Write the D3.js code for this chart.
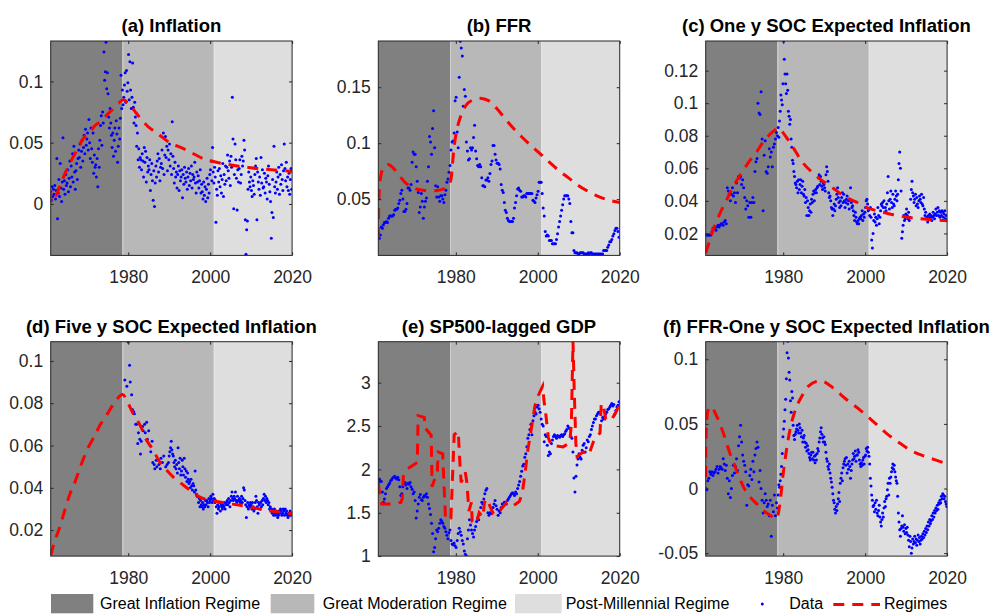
<!DOCTYPE html>
<html><head><meta charset="utf-8">
<script src="https://cdn.jsdelivr.net/npm/d3@7"></script>
<style>body{margin:0;background:#fff}</style>
</head><body><svg id="c" width="992" height="614"></svg>
<script>
// ---------- shared categories ----------
const xTicks = [1980, 2000, 2020];
const xStart = 1961.08, xEnd = 2020.0;
const regimeBreaks = [1978.6, 2000.9];
const regimeNames = ["Great Inflation Regime", "Great Moderation Regime", "Post-Millennial Regime"];
const panelTitles = ["(a) Inflation", "(b) FFR", "(c) One y SOC Expected Inflation",
  "(d) Five y SOC Expected Inflation", "(e) SP500-lagged GDP", "(f) FFR-One y SOC Expected Inflation"];

// ---------- (a) Inflation: 6 obs per year from 1961.08 ----------
const inflation = [
0.010,0.003,0.014,0.006,0.012,0.008,
0.015,0.004,0.011,0.037,-0.012,0.009,
0.020,0.006,0.033,0.013,0.002,0.018,
0.054,0.012,0.019,0.008,0.024,0.015,
0.017,0.028,0.010,0.021,0.035,0.014,
0.031,0.022,0.041,0.018,0.047,0.026,
0.012,0.027,0.033,0.020,0.037,0.044,
0.038,0.049,0.030,0.043,0.052,0.035,
0.046,0.056,0.041,0.061,0.048,0.053,
0.058,0.044,0.069,0.050,0.037,0.062,
0.045,0.034,0.058,0.025,0.040,0.030,
0.032,0.022,0.037,0.014,0.045,0.030,
0.052,0.064,0.072,0.048,0.075,0.066,
0.124,0.101,0.108,0.132,0.094,0.107,
0.090,0.071,0.062,0.078,0.066,0.056,
0.046,0.058,0.039,0.052,0.062,0.043,
0.068,0.057,0.034,0.047,0.062,0.053,
0.070,0.105,0.078,0.093,0.081,0.087,
0.097,0.107,0.083,0.109,0.092,0.099,
0.122,0.085,0.116,0.093,0.078,0.087,
0.115,0.079,0.066,0.083,0.071,0.064,
0.047,0.058,0.036,0.045,0.030,0.038,
0.036,0.028,0.041,0.035,0.022,0.046,
0.034,0.043,0.018,0.038,0.026,0.031,
0.028,0.036,0.011,0.024,0.033,0.019,
0.003,0.027,-0.002,0.017,0.031,0.022,
0.035,0.041,0.026,0.037,0.019,0.030,
0.033,0.044,0.029,0.058,0.024,0.040,
0.055,0.038,0.047,0.027,0.044,0.036,
0.049,0.031,0.041,0.024,0.067,0.039,
0.029,0.017,0.034,0.022,0.026,0.013,
0.024,0.031,0.011,0.027,0.019,0.022,
0.028,0.005,0.024,0.016,0.030,0.021,
0.018,0.026,0.012,0.022,0.029,0.015,
0.025,0.019,0.031,0.013,0.024,0.020,
0.022,0.034,0.017,0.009,0.026,0.018,
0.023,0.013,0.019,0.028,0.009,0.016,
0.010,0.004,0.018,0.007,0.014,0.002,
0.012,0.021,0.005,0.016,0.009,0.024,
0.028,0.035,0.019,0.046,0.026,0.017,
0.030,0.022,-0.015,0.012,0.007,0.027,
0.018,0.029,0.014,0.023,0.009,0.020,
0.033,0.006,0.024,0.016,0.031,0.019,
0.030,0.040,0.027,0.021,0.035,0.015,
0.039,0.030,0.087,0.053,-0.004,0.024,
0.049,0.036,0.021,-0.005,0.028,0.018,
0.029,0.036,0.017,0.024,0.039,0.031,
0.035,0.052,0.044,-0.013,-0.041,-0.021,
-0.014,0.012,0.026,0.018,0.014,0.022,
0.011,0.006,0.019,0.015,0.008,0.024,
0.031,0.037,-0.013,0.026,0.018,0.012,
0.022,0.007,0.038,0.017,0.028,0.013,
0.014,0.025,0.009,0.021,0.018,0.004,
0.023,0.031,0.016,0.010,0.002,-0.028,
-0.007,0.020,-0.011,0.047,0.014,0.009,
0.018,0.026,0.012,0.022,0.030,0.008,
0.024,0.016,0.032,0.020,0.011,0.027,
0.049,0.029,0.019,0.034,0.014,0.022,
0.011,0.025,0.008,0.020,0.029,0.012];
const inflationRegime = [[1961.08,0.010],[1961.3,0.001],[1961.9,0.003],[1962.5,0.0076],[1963.7,0.018],[1965.0,0.028],[1966.2,0.036],[1967.3,0.043],[1968.2,0.049],[1969.4,0.055],[1970.7,0.059],[1971.9,0.064],[1973.1,0.067],[1974.3,0.071],[1975.5,0.075],[1977.6,0.082],[1978.8,0.085],[1980.8,0.079],[1982.0,0.074],[1983.7,0.067],[1984.9,0.063],[1986.9,0.058],[1988.1,0.055],[1990.6,0.049],[1992.2,0.047],[1994.2,0.044],[1995.9,0.041],[1998.3,0.037],[2000.3,0.035],[2002.8,0.033],[2004.8,0.032],[2007.3,0.0305],[2008.9,0.030],[2011.3,0.029],[2015.0,0.028],[2020.0,0.0265]];

// ---------- (b) FFR: quarterly from 1961.08 ----------
const ffr = [
0.020,0.015,0.018,0.025, 0.024,0.027,0.029,0.029, 0.030,0.029,0.033,0.035, 0.035,0.035,0.035,0.036,
0.040,0.041,0.041,0.042, 0.046,0.049,0.055,0.058, 0.050,0.039,0.039,0.041, 0.046,0.060,0.060,0.058,
0.063,0.083,0.092,0.090, 0.090,0.079,0.066,0.056, 0.038,0.043,0.055,0.048, 0.033,0.043,0.048,0.051,
0.066,0.079,0.106,0.101, 0.090,0.113,0.129,0.096, 0.062,0.052,0.061,0.052, 0.048,0.053,0.053,0.050,
0.047,0.054,0.058,0.065, 0.068,0.074,0.080,0.094, 0.101,0.102,0.109,0.138, 0.141,0.110,0.096,0.159,
0.191,0.185,0.178,0.133, 0.148,0.142,0.101,0.093, 0.085,0.086,0.096,0.094, 0.096,0.105,0.116,0.093,
0.086,0.080,0.079,0.081, 0.079,0.069,0.062,0.062, 0.061,0.067,0.067,0.069, 0.066,0.073,0.081,0.084,
0.098,0.098,0.090,0.085, 0.082,0.082,0.081,0.077, 0.063,0.058,0.056,0.047, 0.040,0.038,0.033,0.031,
0.030,0.030,0.030,0.030, 0.033,0.042,0.047,0.053, 0.059,0.060,0.058,0.057, 0.052,0.052,0.053,0.053,
0.052,0.055,0.055,0.055, 0.055,0.055,0.055,0.049, 0.048,0.047,0.051,0.054, 0.057,0.065,0.065,0.065,
0.055,0.042,0.035,0.021, 0.017,0.018,0.017,0.013, 0.013,0.013,0.010,0.010, 0.010,0.010,0.014,0.019,
0.025,0.030,0.035,0.040, 0.045,0.050,0.053,0.053, 0.053,0.053,0.050,0.046, 0.030,0.020,0.020,0.004,
0.002,0.002,0.002,0.001, 0.001,0.002,0.002,0.002, 0.002,0.001,0.001,0.001, 0.001,0.002,0.001,0.002,
0.002,0.001,0.001,0.001, 0.001,0.001,0.001,0.001, 0.001,0.001,0.001,0.001, 0.004,0.004,0.004,0.004,
0.007,0.009,0.012,0.012, 0.014,0.017,0.019,0.022, 0.024,0.024,0.021,0.016];
const ffrRegime = [[1961.08,0.015],[1961.2,0.045],[1961.5,0.066],[1962.2,0.077],[1963.4,0.081],[1964.7,0.078],[1966.0,0.072],[1967.6,0.065],[1969.6,0.060],[1972.0,0.058],[1975.0,0.0575],[1977.3,0.0595],[1978.1,0.062],[1978.7,0.066],[1979.2,0.082],[1979.6,0.097],[1980.2,0.111],[1981.0,0.122],[1982.0,0.131],[1983.0,0.136],[1984.5,0.139],[1986.3,0.140],[1988.0,0.138],[1990.0,0.131],[1992.0,0.122],[1994.0,0.1135],[1996.0,0.106],[1998.0,0.099],[2000.0,0.0925],[2002.5,0.084],[2005.0,0.076],[2007.5,0.069],[2010.0,0.062],[2012.5,0.0565],[2015.0,0.052],[2017.5,0.049],[2020.0,0.047]];

// ---------- (c) One-year SOC expected inflation ----------
const soc1Early = [ // quarterly from 1961.1
0.019,0.019,0.019,0.019, 0.019,0.019,0.021,0.023, 0.023,0.024,0.022,0.024, 0.025,0.024,0.025,0.026,
0.026,0.025,0.027,0.028, 0.026,0.048,0.046,0.044, 0.040,0.044,0.048,0.043, 0.045,0.039,0.051,0.045,
0.055,0.054,0.055,0.050, 0.053,0.048,0.042,0.035, 0.040,0.037,0.030,0.039, 0.030,0.039,0.042,0.039,
0.058,0.064,0.066,0.100, 0.094,0.093,0.107,0.078, 0.034,0.068,0.077,0.058, 0.057,0.061,0.072,0.067,
0.070,0.061,0.073,0.075, 0.078,0.082];
const soc1Late = [ // 6 per year from 1978.6
0.080,0.085,0.079,
0.089,0.095,0.105,0.102,0.099,0.112,
0.138,0.127,0.118,0.112,0.106,0.118,
0.108,0.095,0.092,0.087,0.090,0.078,
0.073,0.065,0.063,0.058,0.055,0.051,
0.050,0.048,0.052,0.045,0.053,0.047,
0.050,0.053,0.045,0.049,0.052,0.044,
0.043,0.047,0.039,0.042,0.031,0.040,
0.036,0.031,0.034,0.038,0.033,0.041,
0.039,0.044,0.046,0.040,0.045,0.047,
0.045,0.048,0.049,0.054,0.056,0.050,
0.055,0.052,0.049,0.047,0.051,0.050,
0.048,0.046,0.056,0.061,0.058,0.052,
0.045,0.042,0.043,0.040,0.036,0.035,
0.031,0.035,0.038,0.034,0.037,0.041,
0.044,0.048,0.042,0.039,0.036,0.040,
0.037,0.042,0.045,0.039,0.044,0.040,
0.036,0.039,0.041,0.043,0.038,0.040,
0.035,0.041,0.048,0.039,0.036,0.037,
0.034,0.031,0.028,0.033,0.030,0.027,
0.026,0.028,0.026,0.029,0.030,0.029,
0.031,0.034,0.028,0.032,0.030,0.033,
0.036,0.040,0.041,0.038,0.034,0.035,
0.031,0.036,0.030,0.016,0.011,0.020,
0.028,0.032,0.027,0.030,0.025,0.029,
0.036,0.031,0.026,0.030,0.034,0.038,
0.037,0.039,0.036,0.040,0.033,0.036,
0.034,0.038,0.045,0.055,0.040,0.035,
0.041,0.046,0.039,0.036,0.044,0.038,
0.037,0.041,0.046,0.043,0.040,0.044,
0.053,0.063,0.070,0.060,0.046,0.017,
0.021,0.025,0.031,0.028,0.029,0.032,
0.035,0.031,0.029,0.033,0.028,0.030,
0.041,0.047,0.052,0.045,0.043,0.039,
0.041,0.044,0.037,0.042,0.038,0.036,
0.040,0.043,0.041,0.039,0.044,0.038,
0.037,0.042,0.035,0.031,0.033,0.029,
0.030,0.027,0.031,0.029,0.032,0.030,
0.031,0.028,0.030,0.033,0.031,0.029,
0.032,0.035,0.031,0.033,0.036,0.031,
0.034,0.030,0.033,0.031,0.034,0.033,
0.030,0.032,0.034,0.029,0.031,0.028];
const soc1Regime = [[1961.08,0.0079],[1962.1,0.0161],[1962.9,0.0222],[1964.6,0.0325],[1966.2,0.0407],[1967.8,0.0488],[1969.8,0.057],[1971.7,0.0642],[1973.5,0.070],[1975.5,0.0775],[1978.0,0.0836],[1978.8,0.0846],[1981.2,0.0775],[1982.5,0.0724],[1984.9,0.0631],[1987.3,0.057],[1989.8,0.0519],[1992.2,0.0478],[1995.0,0.0427],[1997.9,0.0392],[2000.7,0.0355],[2003.6,0.0335],[2006.8,0.0315],[2010.1,0.030],[2013.3,0.029],[2016.6,0.0284],[2020.0,0.0278]];

// ---------- (d) Five-year SOC expected inflation: 6 per year from 1979.0 (null = no survey) ----------
const soc5 = [
null,0.091,null,null,0.088,null,
0.109,null,0.098,0.090,null,0.084,
0.077,null,0.076,0.075,null,0.070,
0.070,null,0.061,0.066,null,0.063,
0.056,0.062,null,0.069,0.067,null,
0.070,0.066,null,0.071,0.063,null,
0.067,null,0.060,0.057,null,0.062,
0.052,null,0.051,0.049,null,0.053,
0.050,null,0.053,0.051,null,0.049,
0.054,null,0.052,null,0.055,null,
null,0.050,null,0.051,null,0.052,
0.055,0.057,0.059,0.062,0.058,0.056,
0.055,0.052,0.050,0.053,0.049,0.051,
0.047,0.059,0.052,0.049,0.054,0.046,
0.048,0.053,0.050,0.046,0.054,0.049,
0.045,0.048,0.043,0.047,0.044,0.042,
0.043,0.040,0.044,0.041,0.039,0.042,
0.041,0.038,0.048,0.039,0.037,0.036,
0.036,0.033,0.035,0.031,0.034,0.032,
0.031,0.033,0.030,0.032,0.031,0.034,
0.032,0.034,0.033,0.031,0.035,0.033,
0.034,0.036,0.035,0.033,0.037,0.034,
0.035,0.033,0.034,0.031,0.028,0.032,
0.030,0.031,0.033,0.029,0.032,0.031,
0.030,0.032,0.031,0.033,0.030,0.032,
0.033,0.034,0.032,0.035,0.033,0.031,
0.034,0.036,0.038,0.035,0.034,0.036,
0.035,0.038,0.034,0.033,0.036,0.034,
0.034,0.035,0.033,0.034,0.036,0.033,
0.035,0.040,0.039,0.034,0.032,0.026,
0.031,0.033,0.030,0.032,0.031,0.033,
0.032,0.030,0.033,0.031,0.029,0.030,
0.033,0.036,0.034,0.031,0.028,0.033,
0.032,0.030,0.033,0.031,0.034,0.032,
0.035,0.037,0.034,0.036,0.033,0.035,
0.034,0.032,0.033,0.030,0.031,0.029,
0.030,0.028,0.029,0.027,0.030,0.028,
0.027,0.029,0.028,0.026,0.027,0.029,
0.028,0.030,0.029,0.027,0.028,0.030,
0.029,0.027,0.030,0.028,0.029,0.027,
0.026,0.028,0.027,0.029,0.027,0.028];
const soc5Regime = [[1961.08,0.008],[1962.1,0.0151],[1963.3,0.0214],[1964.6,0.030],[1965.8,0.0372],[1967.0,0.0427],[1968.6,0.0514],[1970.3,0.0593],[1971.9,0.0649],[1973.1,0.0696],[1974.7,0.0743],[1976.8,0.0807],[1978.6,0.0841],[1980.0,0.0799],[1981.2,0.0751],[1982.9,0.0696],[1984.5,0.0625],[1986.1,0.0578],[1987.7,0.0522],[1989.4,0.0483],[1991.0,0.0451],[1993.0,0.042],[1995.1,0.0388],[1997.5,0.0356],[1999.9,0.0341],[2002.4,0.0333],[2004.8,0.0325],[2007.3,0.0317],[2010.5,0.0306],[2013.8,0.0293],[2017.0,0.0285],[2020.0,0.0277]];

// ---------- (e) SP500 / lagged GDP: quarterly from 1961.08 ----------
const sp500 = [
1.85,1.89,1.87,1.86, 1.74,1.62,1.66,1.72, 1.78,1.80,1.82,1.84, 1.87,1.88,1.90,1.91,
1.92,1.90,1.89,1.91, 1.88,1.80,1.70,1.72, 1.80,1.84,1.85,1.82, 1.78,1.84,1.83,1.85,
1.80,1.77,1.72,1.74, 1.64,1.44,1.52,1.60, 1.68,1.71,1.65,1.64, 1.68,1.70,1.69,1.72,
1.68,1.60,1.55,1.48, 1.38,1.26,1.05,1.10, 1.20,1.30,1.28,1.32, 1.38,1.42,1.40,1.38,
1.34,1.32,1.28,1.24, 1.20,1.27,1.30,1.18, 1.14,1.13,1.15,1.12, 1.10,1.18,1.26,1.32,
1.28,1.24,1.18,1.14, 1.06,1.02,1.00,1.20, 1.30,1.42,1.36,1.30, 1.26,1.22,1.30,1.34,
1.40,1.44,1.42,1.48, 1.56,1.62,1.60,1.66, 1.72,1.76,1.78,1.50, 1.47,1.50,1.49,1.52,
1.56,1.60,1.64,1.58, 1.54,1.47,1.52,1.50, 1.56,1.60,1.58,1.62, 1.62,1.60,1.64,1.66,
1.68,1.70,1.72,1.73, 1.72,1.70,1.74,1.72, 1.78,1.82,1.86,1.92, 1.98,2.04,2.06,2.14,
2.18,2.26,2.36,2.40, 2.46,2.52,2.40,2.56, 2.62,2.66,2.64,2.72, 2.74,2.70,2.66,2.58,
2.52,2.50,2.32,2.40, 2.38,2.28,2.16,2.20, 2.18,2.30,2.34,2.38, 2.40,2.38,2.36,2.39,
2.38,2.37,2.39,2.40, 2.38,2.40,2.41,2.44, 2.46,2.50,2.48,2.47, 2.38,2.36,2.20,1.90,
1.74,1.92,2.05,2.12, 2.18,2.14,2.12,2.22, 2.28,2.30,2.20,2.25, 2.34,2.32,2.38,2.40,
2.46,2.50,2.54,2.58, 2.58,2.62,2.64,2.66, 2.66,2.65,2.56,2.60, 2.58,2.61,2.64,2.66,
2.69,2.70,2.72,2.74, 2.76,2.73,2.75,2.64, 2.68,2.72,2.74,2.78];
const sp500Regime = [[1961.08,1.84],[1961.5,1.68],[1961.9,1.60],[1964.4,1.60],[1966.6,1.62],[1966.9,1.66],[1967.2,1.92],[1968.0,2.00],[1970.6,2.08],[1970.8,2.62],[1972.3,2.60],[1972.6,2.47],[1973.2,2.44],[1974.0,2.39],[1974.2,1.80],[1975.5,1.98],[1975.7,2.20],[1976.8,2.18],[1977.0,1.95],[1977.5,1.42],[1978.8,1.44],[1979.6,2.40],[1980.6,2.44],[1980.9,2.15],[1981.3,1.85],[1982.3,1.97],[1982.7,1.85],[1983.2,1.52],[1983.8,1.62],[1984.0,1.40],[1985.0,1.37],[1985.7,1.50],[1986.6,1.45],[1987.0,1.62],[1987.6,1.66],[1988.3,1.58],[1989.0,1.50],[1989.8,1.54],[1990.7,1.52],[1992.4,1.62],[1994.0,1.58],[1995.5,1.63],[1996.2,1.72],[1996.8,1.92],[1997.6,2.23],[1998.4,2.46],[1999.3,2.73],[2000.1,2.85],[2001.2,2.96],[2001.5,2.80],[2002.0,2.62],[2002.6,2.36],[2003.3,2.28],[2006.2,2.26],[2007.8,2.31],[2008.2,2.52],[2008.6,3.47],[2008.9,2.92],[2009.3,2.30],[2009.6,2.15],[2011.1,2.20],[2012.5,2.17],[2013.5,2.31],[2014.3,2.38],[2015.2,2.42],[2015.5,2.76],[2016.0,2.74],[2016.6,2.58],[2017.8,2.56],[2018.6,2.62],[2019.5,2.70],[2020.0,2.62]];

// ---------- (f) FFR minus one-year SOC expected inflation ----------
const spreadEarly = [ // quarterly from 1961.1
0.000,-0.001,0.006,0.008, 0.013,0.011,0.013,0.010, 0.012,0.013,0.015,0.017, 0.012,0.015,0.017,0.016,
0.015,0.023,0.019,0.014, 0.018,0.008,-0.004,0.006, -0.007,0.000,0.010,0.018, 0.012,0.017,0.023,0.014,
0.033,0.040,0.049,0.036, 0.026,0.021,0.018,0.013, -0.013,0.003,0.002,0.010, 0.015,0.007,0.021,0.013,
0.026,0.031,0.036,0.032, 0.005,0.014,0.000,-0.009, -0.019,-0.011,-0.004,-0.009, -0.014,-0.012,-0.021,-0.009,
-0.037,-0.013,-0.018,-0.005, -0.021,-0.011];
const spreadLate = [ // 6 per year from 1978.6
-0.015,-0.005,0.003,
0.001,0.006,0.011,0.017,0.027,0.040,
0.046,0.052,0.061,0.069,0.085,0.105,
0.114,0.101,0.090,0.084,0.068,0.059,
0.075,0.070,0.049,0.041,0.038,0.042,
0.044,0.046,0.049,0.045,0.043,0.050,
0.047,0.043,0.040,0.045,0.036,0.039,
0.041,0.036,0.032,0.035,0.029,0.033,
0.030,0.027,0.024,0.022,0.026,0.028,
0.023,0.028,0.022,0.025,0.020,0.026,
0.022,0.027,0.031,0.029,0.036,0.039,
0.044,0.047,0.042,0.039,0.036,0.040,
0.036,0.034,0.028,0.023,0.021,0.017,
0.015,0.019,0.012,0.008,0.005,0.001,
-0.004,-0.009,-0.011,-0.016,-0.019,-0.014,
-0.017,-0.012,-0.008,-0.003,-0.010,0.004,
0.008,0.012,0.006,0.016,0.019,0.021,
0.023,0.018,0.024,0.012,0.019,0.015,
0.021,0.017,0.008,0.014,0.019,0.022,
0.027,0.023,0.025,0.029,0.021,0.026,
0.026,0.030,0.028,0.022,0.019,0.017,
0.020,0.018,0.022,0.024,0.019,0.025,
0.026,0.031,0.029,0.032,0.028,0.025,
0.019,0.008,0.002,-0.005,-0.009,-0.014,
-0.013,-0.018,-0.011,-0.016,-0.009,-0.019,
-0.021,-0.017,-0.013,-0.022,-0.026,-0.029,
-0.024,-0.019,-0.022,-0.015,-0.010,-0.014,
-0.008,-0.006,-0.001,0.004,-0.005,0.008,
0.004,0.009,0.013,0.016,0.019,0.015,
0.018,0.013,0.009,0.006,0.004,-0.006,
-0.019,-0.026,-0.032,-0.037,-0.031,-0.029,
-0.021,-0.030,-0.033,-0.028,-0.035,-0.031,
-0.034,-0.030,-0.036,-0.040,-0.045,-0.037,
-0.041,-0.050,-0.046,-0.039,-0.043,-0.041,
-0.037,-0.042,-0.039,-0.044,-0.040,-0.036,
-0.041,-0.038,-0.043,-0.040,-0.037,-0.039,
-0.035,-0.038,-0.033,-0.036,-0.031,-0.034,
-0.029,-0.032,-0.026,-0.029,-0.024,-0.027,
-0.025,-0.021,-0.024,-0.019,-0.022,-0.017,
-0.019,-0.015,-0.017,-0.013,-0.016,-0.011,
-0.012,-0.009,-0.011,-0.006,-0.008,-0.004,
-0.005,-0.008,-0.006,-0.010,-0.012,-0.014];
const spreadRegime = [[1961.08,0.009],[1961.12,0.0376],[1961.3,0.049],[1961.7,0.061],[1962.3,0.0635],[1963.8,0.0557],[1965.4,0.0427],[1967.0,0.0272],[1968.6,0.0142],[1970.3,0.0013],[1971.9,-0.0065],[1973.5,-0.0117],[1975.1,-0.0168],[1976.8,-0.0207],[1978.4,-0.0233],[1978.8,-0.0194],[1979.4,-0.0065],[1980.0,0.0117],[1980.8,0.0298],[1982.0,0.0505],[1983.3,0.0635],[1984.5,0.0712],[1986.1,0.079],[1988.1,0.0829],[1989.8,0.0829],[1992.2,0.0777],[1995.5,0.0687],[1998.7,0.0609],[2002.0,0.0518],[2005.2,0.0427],[2008.5,0.035],[2011.7,0.0285],[2014.9,0.0246],[2020.0,0.019]];

// ---------- y axes ----------
const yDomains = [[-0.042,0.133],[-0.0003,0.1913],[0.0065,0.1382],[0.0077,0.1091],[1,3.473],[-0.0523,0.1136]];
const yTicks = [[0,0.05,0.1],[0.05,0.1,0.15],[0.02,0.04,0.06,0.08,0.1,0.12],[0.02,0.04,0.06,0.08,0.1],[1,1.5,2,2.5,3],[-0.05,0,0.05,0.1]];

// ---------- build ----------
function series(start, step, vals){ return vals.map((v,i)=>[start+i*step, v]).filter(d=>d[1]!==null); }
const panelData = [
  series(xStart, 1/6, inflation),
  series(xStart, 0.25, ffr),
  series(1961.1, 0.25, soc1Early).concat(series(1978.6, 1/6, soc1Late)),
  series(1979.0, 1/6, soc5),
  series(xStart, 0.25, sp500),
  series(1961.1, 0.25, spreadEarly).concat(series(1978.6, 1/6, spreadLate))
];
const panelRegimes = [inflationRegime, ffrRegime, soc1Regime, soc5Regime, sp500Regime, spreadRegime];
const smooth = d3.curveCatmullRom.alpha(0.5);
const panelCurves = [smooth, smooth, smooth, smooth, d3.curveLinear, smooth];

const FONT = '"Liberation Sans", Arial, Helvetica, sans-serif';
const regimeColors = ['#808080','#b8b8b8','#dedede'];
const AX = '#262626';
const DASH = '11,8';
const svg = d3.select('#c');
const colX = [50.7, 378.3, 705.7], rowY = [41, 341.7], PW = 241.4, PH = 214.4;
const fmt = v => String(Math.round(v*1000)/1000);

panelTitles.forEach((title, k) => {
  const x0 = colX[k%3], y0 = rowY[Math.floor(k/3)];
  const x = d3.scaleLinear().domain([xStart, xEnd]).range([x0, x0+PW]);
  const y = d3.scaleLinear().domain(yDomains[k]).range([y0+PH, y0]);
  const g = svg.append('g');
  const cid = 'clip'+k;
  svg.append('clipPath').attr('id', cid).append('rect')
    .attr('x', x0).attr('y', y0).attr('width', PW).attr('height', PH);

  const edges = [xStart, ...regimeBreaks, xEnd];
  regimeColors.forEach((c,i) => g.append('rect')
    .attr('x', x(edges[i])).attr('width', x(edges[i+1]) - x(edges[i]))
    .attr('y', y0).attr('height', PH).attr('fill', c));
  g.append('line').attr('x1', x(regimeBreaks[0])+0.5).attr('x2', x(regimeBreaks[0])+0.5)
    .attr('y1', y0).attr('y2', y0+PH).attr('stroke', '#cecece').attr('stroke-width', 1);
  g.append('line').attr('x1', x(regimeBreaks[1])+0.5).attr('x2', x(regimeBreaks[1])+0.5)
    .attr('y1', y0).attr('y2', y0+PH).attr('stroke', '#e6e6e6').attr('stroke-width', 1);

  const plot = g.append('g').attr('clip-path', `url(#${cid})`);
  plot.selectAll('circle').data(panelData[k]).join('circle')
    .attr('cx', d => x(d[0])).attr('cy', d => y(d[1])).attr('r', 1.5).attr('fill', '#0000ff');
  plot.append('path').datum(panelRegimes[k])
    .attr('d', d3.line().x(d => x(d[0])).y(d => y(d[1])).curve(panelCurves[k]))
    .attr('fill', 'none').attr('stroke', '#ff0000').attr('stroke-width', 3)
    .attr('stroke-dasharray', DASH);

  const T = 3;
  const axes = g.append('g');
  axes.append('g').attr('transform', `translate(0,${y0+PH})`)
    .call(d3.axisBottom(x).tickValues(xTicks).tickSizeInner(-T).tickSizeOuter(0).tickPadding(15).tickFormat(d3.format('d')));
  axes.append('g').attr('transform', `translate(0,${y0})`)
    .call(d3.axisTop(x).tickValues(xTicks).tickSizeInner(-T).tickSizeOuter(0).tickFormat(''));
  axes.append('g').attr('transform', `translate(${x0},0)`)
    .call(d3.axisLeft(y).tickValues(yTicks[k]).tickSizeInner(-T).tickSizeOuter(0).tickPadding(7.5).tickFormat(fmt));
  axes.append('g').attr('transform', `translate(${x0+PW},0)`)
    .call(d3.axisRight(y).tickValues(yTicks[k]).tickSizeInner(-T).tickSizeOuter(0).tickFormat(''));
  axes.selectAll('.domain').remove();
  axes.selectAll('g').attr('font-family', FONT).attr('font-size', 17.5);
  axes.selectAll('.tick line').attr('stroke', AX);
  axes.selectAll('.tick text').attr('fill', AX);
  g.append('rect').attr('x', x0).attr('y', y0).attr('width', PW).attr('height', PH)
    .attr('fill', 'none').attr('stroke', AX).attr('stroke-width', 1);

  g.append('text').attr('x', x0 + PW/2).attr('y', y0 - 9).attr('text-anchor', 'middle')
    .attr('font-family', FONT).attr('font-size', 18.5).attr('font-weight', 'bold').attr('fill', '#000')
    .text(title);
});

// ---------- legend ----------
const leg = svg.append('g').attr('font-family', FONT).attr('font-size', 16).attr('fill', '#000');
const swX = [51, 270.7, 515], swW = [42.3, 43.6, 46.7], txX = [100, 322.7, 565.7];
regimeNames.forEach((n,i) => {
  leg.append('rect').attr('x', swX[i]).attr('y', 594).attr('width', swW[i]).attr('height', 19.3).attr('fill', regimeColors[i]);
  leg.append('text').attr('x', txX[i]).attr('y', 609).text(n);
});
leg.append('circle').attr('cx', 762.3).attr('cy', 604).attr('r', 1.5).attr('fill', '#0000ff');
leg.append('text').attr('x', 789.3).attr('y', 609).text('Data');
leg.append('line').attr('x1', 833.3).attr('x2', 880).attr('y1', 604.5).attr('y2', 604.5)
  .attr('stroke', '#ff0000').attr('stroke-width', 3).attr('stroke-dasharray', DASH);
leg.append('text').attr('x', 884).attr('y', 609).text('Regimes');
</script></body></html>
